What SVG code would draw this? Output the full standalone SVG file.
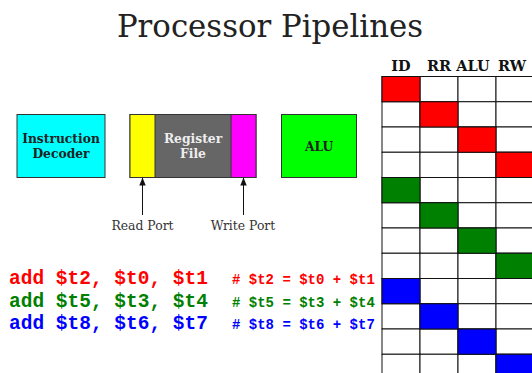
<svg xmlns="http://www.w3.org/2000/svg" width="532" height="373" viewBox="0 0 532 373">
<style>
.box{stroke:#333;stroke-width:1}
.bt{font-family:"DejaVu Serif",serif;font-weight:bold;font-size:12.3px;text-anchor:middle}
.lbl{font-family:"DejaVu Serif",serif;font-size:12.4px;fill:#333;text-anchor:middle}
.hd{font-family:"DejaVu Serif",serif;font-weight:bold;font-size:14.5px;fill:#111;text-anchor:middle}
.code{font-family:"Liberation Mono","Courier New",monospace;font-weight:bold;font-size:19.5px}
.cm{font-family:"Liberation Mono","Courier New",monospace;font-weight:bold;font-size:14px}
.cell{stroke:#111;stroke-width:1;fill:#fff}
.r{fill:#ff0000}.g{fill:#008000}.b{fill:#0000ff}
</style>
<defs>
<marker id="ah" viewBox="0 0 10 10" refX="10" refY="5" markerWidth="8" markerHeight="8" orient="auto" markerUnits="userSpaceOnUse">
<path d="M0,1 L10,5 L0,9 z" fill="#111"/>
</marker>
</defs>
<rect width="532" height="373" fill="#fff"/>
<text x="270" y="37" font-family="DejaVu Serif,serif" font-size="30.8" fill="#222" text-anchor="middle">Processor Pipelines</text>

<g id="decoder">
<rect class="box" x="17" y="114.5" width="88" height="63" fill="#00ffff"/>
<text class="bt" x="61" y="142.5" fill="#222">Instruction</text>
<text class="bt" x="61" y="158" fill="#222">Decoder</text>
</g>
<g id="regfile">
<rect class="box" x="130" y="114.5" width="126" height="63" fill="#666"/>
<rect class="box" x="130" y="114.5" width="25" height="63" fill="#ffff00"/>
<rect class="box" x="231" y="114.5" width="25" height="63" fill="#ff00ff"/>
<text class="bt" x="193" y="142.5" fill="#eee">Register</text>
<text class="bt" x="193" y="158" fill="#eee">File</text>
</g>
<g id="alu">
<rect class="box" x="281.5" y="114.5" width="75" height="63" fill="#00ff00"/>
<text class="bt" x="319" y="151" fill="#222">ALU</text>
</g>
<g id="readport"><text class="lbl" x="142.5" y="230">Read Port</text></g>
<g id="writeport"><text class="lbl" x="243" y="230">Write Port</text></g>
<g id="connectors" stroke="#111" stroke-width="1">
<line x1="142.5" y1="215" x2="142.5" y2="177.5" marker-end="url(#ah)"/>
<line x1="243.5" y1="215" x2="243.5" y2="177.5" marker-end="url(#ah)"/>
</g>

<g id="code">
<text class="code" x="9" y="284" fill="#ff0000" xml:space="preserve">add $t2, $t0, $t1</text>
<text class="code" x="9" y="306.5" fill="#008000" xml:space="preserve">add $t5, $t3, $t4</text>
<text class="code" x="9" y="329" fill="#0000ff" xml:space="preserve">add $t8, $t6, $t7</text>
<text class="cm" x="232" y="284" fill="#ff0000" xml:space="preserve"># $t2 = $t0 + $t1</text>
<text class="cm" x="232" y="306.5" fill="#008000" xml:space="preserve"># $t5 = $t3 + $t4</text>
<text class="cm" x="232" y="329" fill="#0000ff" xml:space="preserve"># $t8 = $t6 + $t7</text>
</g>

<g id="table">
<text class="hd" x="401" y="70.5">ID</text>
<text class="hd" x="439" y="70.5">RR</text>
<text class="hd" x="473" y="70.5">ALU</text>
<text class="hd" x="512" y="70.5">RW</text>
<g id="grid">
<rect class="cell" x="382" y="76.5" width="38" height="25.25"/><rect class="cell" x="420" y="76.5" width="38" height="25.25"/><rect class="cell" x="458" y="76.5" width="38" height="25.25"/><rect class="cell" x="496" y="76.5" width="38" height="25.25"/>
<rect class="cell" x="382" y="101.75" width="38" height="25.25"/><rect class="cell" x="420" y="101.75" width="38" height="25.25"/><rect class="cell" x="458" y="101.75" width="38" height="25.25"/><rect class="cell" x="496" y="101.75" width="38" height="25.25"/>
<rect class="cell" x="382" y="127" width="38" height="25.25"/><rect class="cell" x="420" y="127" width="38" height="25.25"/><rect class="cell" x="458" y="127" width="38" height="25.25"/><rect class="cell" x="496" y="127" width="38" height="25.25"/>
<rect class="cell" x="382" y="152.25" width="38" height="25.25"/><rect class="cell" x="420" y="152.25" width="38" height="25.25"/><rect class="cell" x="458" y="152.25" width="38" height="25.25"/><rect class="cell" x="496" y="152.25" width="38" height="25.25"/>
<rect class="cell" x="382" y="177.5" width="38" height="25.25"/><rect class="cell" x="420" y="177.5" width="38" height="25.25"/><rect class="cell" x="458" y="177.5" width="38" height="25.25"/><rect class="cell" x="496" y="177.5" width="38" height="25.25"/>
<rect class="cell" x="382" y="202.75" width="38" height="25.25"/><rect class="cell" x="420" y="202.75" width="38" height="25.25"/><rect class="cell" x="458" y="202.75" width="38" height="25.25"/><rect class="cell" x="496" y="202.75" width="38" height="25.25"/>
<rect class="cell" x="382" y="228" width="38" height="25.25"/><rect class="cell" x="420" y="228" width="38" height="25.25"/><rect class="cell" x="458" y="228" width="38" height="25.25"/><rect class="cell" x="496" y="228" width="38" height="25.25"/>
<rect class="cell" x="382" y="253.25" width="38" height="25.25"/><rect class="cell" x="420" y="253.25" width="38" height="25.25"/><rect class="cell" x="458" y="253.25" width="38" height="25.25"/><rect class="cell" x="496" y="253.25" width="38" height="25.25"/>
<rect class="cell" x="382" y="278.5" width="38" height="25.25"/><rect class="cell" x="420" y="278.5" width="38" height="25.25"/><rect class="cell" x="458" y="278.5" width="38" height="25.25"/><rect class="cell" x="496" y="278.5" width="38" height="25.25"/>
<rect class="cell" x="382" y="303.75" width="38" height="25.25"/><rect class="cell" x="420" y="303.75" width="38" height="25.25"/><rect class="cell" x="458" y="303.75" width="38" height="25.25"/><rect class="cell" x="496" y="303.75" width="38" height="25.25"/>
<rect class="cell" x="382" y="329" width="38" height="25.25"/><rect class="cell" x="420" y="329" width="38" height="25.25"/><rect class="cell" x="458" y="329" width="38" height="25.25"/><rect class="cell" x="496" y="329" width="38" height="25.25"/>
<rect class="cell" x="382" y="354.25" width="38" height="25.25"/><rect class="cell" x="420" y="354.25" width="38" height="25.25"/><rect class="cell" x="458" y="354.25" width="38" height="25.25"/><rect class="cell" x="496" y="354.25" width="38" height="25.25"/>
</g>
<g id="stages">
<rect class="cell r" x="382" y="76.5" width="38" height="25.25"/>
<rect class="cell r" x="420" y="101.75" width="38" height="25.25"/>
<rect class="cell r" x="458" y="127" width="38" height="25.25"/>
<rect class="cell r" x="496" y="152.25" width="38" height="25.25"/>
<rect class="cell g" x="382" y="177.5" width="38" height="25.25"/>
<rect class="cell g" x="420" y="202.75" width="38" height="25.25"/>
<rect class="cell g" x="458" y="228" width="38" height="25.25"/>
<rect class="cell g" x="496" y="253.25" width="38" height="25.25"/>
<rect class="cell b" x="382" y="278.5" width="38" height="25.25"/>
<rect class="cell b" x="420" y="303.75" width="38" height="25.25"/>
<rect class="cell b" x="458" y="329" width="38" height="25.25"/>
<rect class="cell b" x="496" y="354.25" width="38" height="25.25"/>
</g>
</g>
</svg>
